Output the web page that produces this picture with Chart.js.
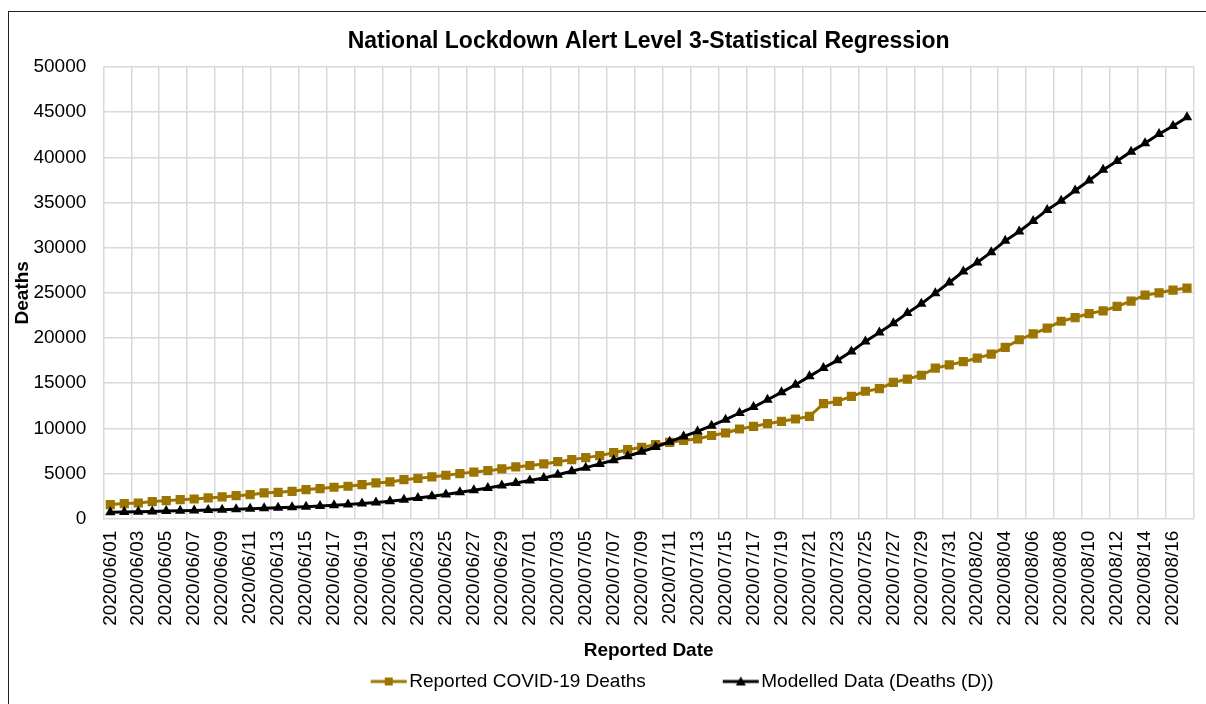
<!DOCTYPE html>
<html>
<head>
<meta charset="utf-8">
<script src="https://cdn.jsdelivr.net/npm/chart.js@4.4.0/dist/chart.umd.min.js"></script>
<style>
  html, body { margin: 0; padding: 0; background: #fff; overflow: hidden; }
  #frame { position: absolute; left: 8px; top: 11px; width: 1400px; height: 900px;
           border-left: 1.5px solid #222; border-top: 1.5px solid #222; }
  #chart { position: absolute; left: 0; top: 0; }
</style>
</head>
<body>
<div id="frame"></div>
<canvas id="chart" width="1206" height="704"></canvas>
<script>
// categories (one per day)
const dates = [
  "2020/06/01", "2020/06/02", "2020/06/03", "2020/06/04", "2020/06/05", "2020/06/06", "2020/06/07", "2020/06/08",
  "2020/06/09", "2020/06/10", "2020/06/11", "2020/06/12", "2020/06/13", "2020/06/14", "2020/06/15", "2020/06/16",
  "2020/06/17", "2020/06/18", "2020/06/19", "2020/06/20", "2020/06/21", "2020/06/22", "2020/06/23", "2020/06/24",
  "2020/06/25", "2020/06/26", "2020/06/27", "2020/06/28", "2020/06/29", "2020/06/30",
  "2020/07/01", "2020/07/02", "2020/07/03", "2020/07/04", "2020/07/05", "2020/07/06", "2020/07/07", "2020/07/08",
  "2020/07/09", "2020/07/10", "2020/07/11", "2020/07/12", "2020/07/13", "2020/07/14", "2020/07/15", "2020/07/16",
  "2020/07/17", "2020/07/18", "2020/07/19", "2020/07/20", "2020/07/21", "2020/07/22", "2020/07/23", "2020/07/24",
  "2020/07/25", "2020/07/26", "2020/07/27", "2020/07/28", "2020/07/29", "2020/07/30", "2020/07/31",
  "2020/08/01", "2020/08/02", "2020/08/03", "2020/08/04", "2020/08/05", "2020/08/06", "2020/08/07", "2020/08/08",
  "2020/08/09", "2020/08/10", "2020/08/11", "2020/08/12", "2020/08/13", "2020/08/14", "2020/08/15", "2020/08/16",
  "2020/08/17"
];

// Reported COVID-19 Deaths
const reported = [
  1550, 1660, 1730, 1880, 1990, 2100, 2170, 2290, 2400, 2540,
  2650, 2840, 2910, 3020, 3210, 3320, 3470, 3580, 3760, 3950,
  4060, 4310, 4460, 4610, 4800, 4980, 5150, 5310, 5500, 5720,
  5880, 6050, 6300, 6530, 6750, 6970, 7300, 7630, 7900, 8190,
  8430, 8670, 8810, 9200, 9480, 9920, 10210, 10510, 10770, 11030,
  11320, 12720, 12980, 13530, 14100, 14380, 15080, 15450, 15870, 16650,
  17020, 17370, 17770, 18210, 18950, 19800, 20460, 21090, 21850, 22250,
  22700, 23000, 23490, 24080, 24740, 25000, 25300, 25520
];

// Modelled Data (Deaths (D))
const modelled = [
  700, 730, 760, 790, 830, 870, 910, 950, 990, 1040,
  1090, 1140, 1200, 1260, 1320, 1390, 1470, 1560, 1660, 1780,
  1920, 2090, 2270, 2470, 2680, 2910, 3140, 3390, 3660, 3950,
  4220, 4500, 4860, 5240, 5640, 6050, 6470, 6900, 7400, 7930,
  8500, 9100, 9650, 10290, 10950, 11690, 12350, 13160, 13980, 14820,
  15750, 16670, 17520, 18510, 19620, 20610, 21640, 22750, 23780, 24960,
  26140, 27360, 28360, 29500, 30750, 31780, 32960, 34180, 35180, 36320,
  37430, 38610, 39600, 40630, 41560, 42590, 43470, 44430
];

const yMin = 0;
const yMax = 50000;
const yStep = 5000;

const GOLD = "#9c7400";
const FONT = "'Liberation Sans', Arial, sans-serif";
const SAMPLE_BOX = 96;

// legend sample: a short line with the marker in the middle (like Excel)
const makeSample = (color, shape) => {
  const w = SAMPLE_BOX + 16;
  const h = 16;
  const c = document.createElement("canvas");
  c.width = w;
  c.height = h;
  const g = c.getContext("2d");
  g.strokeStyle = color;
  g.lineWidth = 3;
  g.beginPath();
  g.moveTo(w - 37, h / 2);
  g.lineTo(w - 1, h / 2);
  g.stroke();
  g.fillStyle = color;
  const cx = w - 19;
  if (shape === "rect") {
    g.fillRect(cx - 4, h / 2 - 4, 8, 8);
  } else {
    g.beginPath();
    g.moveTo(cx, h / 2 - 5);
    g.lineTo(cx + 5, h / 2 + 4);
    g.lineTo(cx - 5, h / 2 + 4);
    g.closePath();
    g.fill();
  }
  return c;
};

const samples = [makeSample(GOLD, "rect"), makeSample("#000", "triangle")];

const ctx = document.getElementById("chart").getContext("2d");

new Chart(ctx, {
  type: "line",
  data: {
    labels: dates,
    datasets: [
      {
        label: "Reported COVID-19 Deaths",
        data: reported,
        borderColor: GOLD,
        backgroundColor: GOLD,
        borderWidth: 3,
        pointStyle: "rect",
        pointRadius: 6.5,
        pointBorderWidth: 0,
        pointBackgroundColor: GOLD,
        tension: 0,
        order: 1,
      },
      {
        label: "Modelled Data (Deaths (D))",
        data: modelled,
        borderColor: "#000",
        backgroundColor: "#000",
        borderWidth: 3,
        pointStyle: "triangle",
        pointRadius: 6,
        pointBorderWidth: 0,
        pointBackgroundColor: "#000",
        tension: 0,
        order: 0,
      },
    ],
  },
  options: {
    responsive: false,
    animation: false,
    layout: {
      autoPadding: false,
      padding: { left: 8, right: 12, top: 0, bottom: 3 },
    },
    plugins: {
      title: {
        display: true,
        fullSize: false,
        text: "National Lockdown Alert Level 3-Statistical Regression",
        color: "#000",
        font: { family: FONT, size: 23, weight: "bold" },
        padding: { top: 28, bottom: 11.4 },
      },
      legend: {
        position: "bottom",
        fullSize: false,
        labels: {
          usePointStyle: true,
          pointStyleWidth: SAMPLE_BOX,
          padding: 10,
          color: "#000",
          font: { family: FONT, size: 19 },
          generateLabels: (chart) => {
            const items = Chart.defaults.plugins.legend.labels.generateLabels(chart);
            items.sort((a, b) => a.datasetIndex - b.datasetIndex);
            items.forEach((item) => {
              item.pointStyle = samples[item.datasetIndex];
            });
            return items;
          },
        },
      },
      tooltip: { enabled: false },
    },
    scales: {
      x: {
        offset: true,
        grid: {
          offset: true,
          drawTicks: false,
          lineWidth: 1.5,
          color: (c) => (c.index === undefined || c.index % 2 === 0 ? "#d9d9d9" : "rgba(0,0,0,0)"),
        },
        border: { display: false },
        ticks: {
          autoSkip: false,
          minRotation: 90,
          maxRotation: 90,
          padding: 12,
          color: "#000",
          font: { family: FONT, size: 19 },
          callback: function (value, index) {
            return index % 2 === 0 ? this.getLabelForValue(value) : "";
          },
        },
        title: {
          display: true,
          text: "Reported Date",
          color: "#000",
          font: { family: FONT, size: 19, weight: "bold" },
          padding: { top: 0, bottom: 0 },
        },
        afterFit: (scale) => {
          scale.height = 143.4;
          scale.paddingLeft = 0;
          scale.paddingRight = 0;
        },
      },
      y: {
        min: yMin,
        max: yMax,
        grid: { color: "#d9d9d9", lineWidth: 1.5, drawTicks: false },
        border: { display: false },
        ticks: {
          stepSize: yStep,
          padding: 17,
          color: "#000",
          font: { family: FONT, size: 19 },
          callback: (value) => String(value),
        },
        title: {
          display: true,
          text: "Deaths",
          color: "#000",
          font: { family: FONT, size: 19, weight: "bold" },
          padding: { top: 3, bottom: 0 },
        },
        afterFit: (scale) => {
          scale.width = 95.3;
        },
      },
    },
  },
});
</script>
</body>
</html>
